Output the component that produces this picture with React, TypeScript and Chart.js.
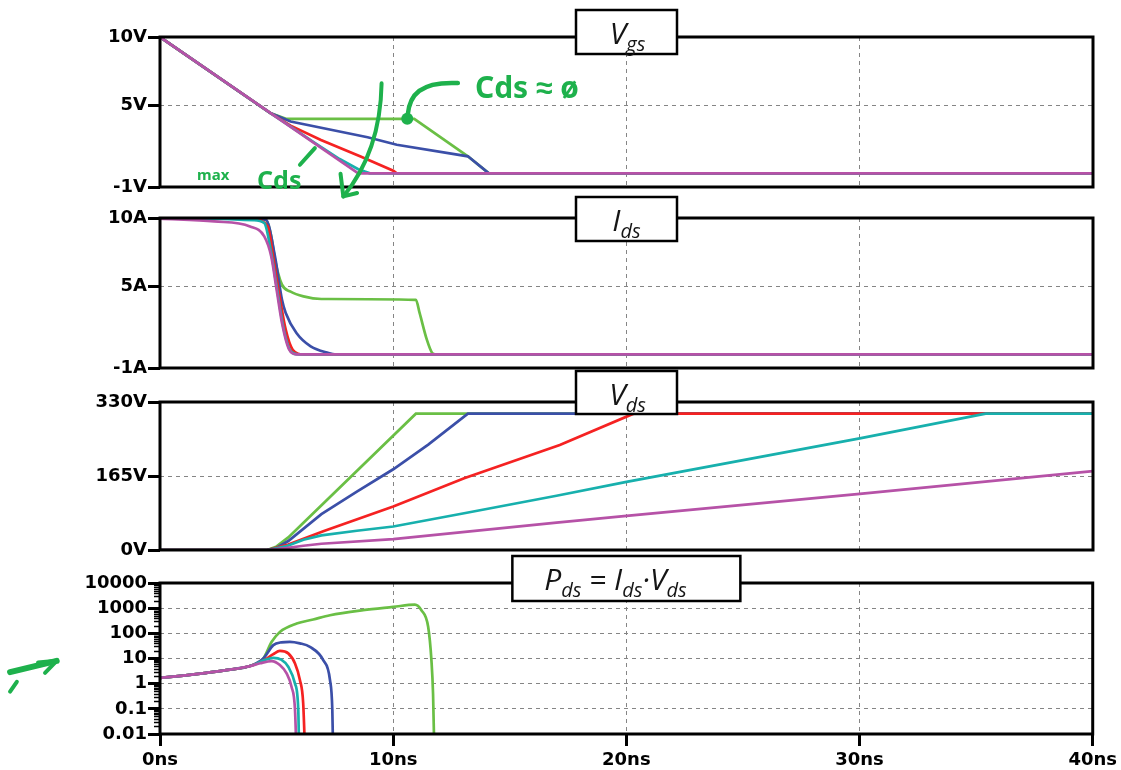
import React, { useEffect, useRef } from 'react';
import { Chart, registerables } from 'chart.js';
Chart.register(...registerables);

const W = 1121;
const H = 770;

// ---------------- time axis ----------------
const xTickValues = [0, 10, 20, 30, 40];

// ---------------- Vgs (V) ----------------
const vgsGreenT = [0, 4.75, 5.4, 10.9, 13.2, 14.1, 40];
const vgsGreenV = [10, 4.4, 4.0, 4.0, 1.25, 0, 0];
const vgsBlueT = [0, 4.75, 5.6, 8.9, 10.15, 13.2, 14.1, 40];
const vgsBlueV = [10, 4.4, 3.8, 2.65, 2.1, 1.25, 0, 0];
const vgsRedT = [0, 4.75, 5.6, 6.9, 8.6, 10.0, 10.15, 40];
const vgsRedV = [10, 4.4, 3.5, 2.45, 1.23, 0.2, 0, 0];
const vgsCyanT = [0, 4.75, 5.6, 6.6, 7.7, 8.5, 9.0, 40];
const vgsCyanV = [10, 4.4, 3.42, 2.28, 1.05, 0.3, 0, 0];
const vgsMagentaT = [0, 8.5, 40];
const vgsMagentaV = [10, 0, 0];
const vgsTicks = [-1, 5, 10];

// ---------------- Ids (A) ----------------
const idsGreenT = [0, 2, 4.0, 4.55, 4.77, 4.93, 5.23, 5.6, 6.15, 6.92, 10.97, 11.13, 11.44, 11.67, 11.8, 40];
const idsGreenV = [10, 10, 9.98, 9.85, 8.65, 6.94, 5.11, 4.6, 4.25, 4.06, 4.0, 3.04, 1.08, 0.1, 0, 0];
const idsBlueT = [0, 2, 4.0, 4.55, 4.93, 5.23, 5.39, 5.85, 6.46, 7.23, 7.5, 40];
const idsBlueV = [10, 10, 9.97, 9.85, 7.18, 4.0, 3.04, 1.57, 0.59, 0.1, 0, 0];
const idsRedT = [0, 2, 4.0, 4.62, 4.85, 5.08, 5.39, 5.69, 6.15, 40];
const idsRedV = [10, 9.98, 9.9, 9.38, 7.18, 4.74, 1.81, 0.34, 0, 0];
const idsCyanT = [0, 2, 4.0, 4.47, 4.77, 5.0, 5.31, 5.61, 5.92, 40];
const idsCyanV = [10, 9.95, 9.85, 9.63, 7.43, 4.99, 1.81, 0.22, 0, 0];
const idsMagentaT = [0, 2.33, 3.86, 4.47, 4.77, 5.0, 5.23, 5.54, 5.85, 40];
const idsMagentaV = [9.95, 9.75, 9.38, 8.65, 7.18, 4.74, 2.3, 0.34, 0, 0];
const idsTicks = [-1, 5, 10];

// ---------------- Vds (V) ----------------
const vdsGreenT = [0, 4.6, 5.0, 5.5, 10.97, 40];
const vdsGreenV = [0, 0, 8, 28, 304, 304];
const vdsBlueT = [0, 4.6, 5.0, 5.5, 6.92, 8.44, 10, 11.5, 13.2, 40];
const vdsBlueV = [0, 0, 5, 20, 80, 130, 180, 235, 304, 304];
const vdsRedT = [0, 4.6, 5.5, 7, 10, 13.04, 17.14, 20.3, 40];
const vdsRedV = [0, 0, 12, 42, 97, 160, 234, 304, 304];
const vdsCyanT = [0, 4.6, 5.39, 6.15, 6.92, 8.44, 10, 13.04, 17, 20, 30, 35.4, 40];
const vdsCyanV = [0, 0, 8, 23, 32.5, 43, 52.4, 82, 121, 152, 249, 304, 304];
const vdsMagentaT = [0, 4.6, 5.39, 6.15, 6.92, 10, 17, 20, 30, 40];
const vdsMagentaV = [0, 0, 4, 9.5, 14, 24.4, 61, 76, 125, 176];
const vdsTicks = [0, 165, 330];

// ---------------- Pds (W, log) ----------------
const pdsGreenT = [0, 1, 2, 3, 3.86, 4.43, 4.79, 5.14, 5.86, 6.57, 7.29, 8.71, 10.0, 10.93, 11.21, 11.5, 11.64, 11.71, 11.77];
const pdsGreenV = [1.7, 2.1, 2.7, 3.6, 5.0, 10, 46, 114, 245, 355, 525, 830, 1120, 1380, 830, 182, 8.6, 0.4, 0.001];
const pdsBlueT = [0, 1, 2, 3, 3.86, 4.43, 4.86, 5.2, 5.57, 6.0, 6.43, 7.0, 7.29, 7.39, 7.43];
const pdsBlueV = [1.7, 2.1, 2.7, 3.6, 5.0, 10, 34, 44, 46, 40, 29, 8.6, 1.4, 0.09, 0.001];
const pdsRedT = [0, 1, 2, 3, 3.86, 4.5, 4.86, 5.14, 5.5, 5.79, 6.0, 6.14, 6.23];
const pdsRedV = [1.7, 2.1, 2.7, 3.6, 5.0, 9, 15, 20, 16, 6.3, 1.4, 0.17, 0.001];
const pdsCyanT = [0, 1, 2, 3, 3.86, 4.5, 4.86, 5.2, 5.5, 5.79, 5.93, 5.97];
const pdsCyanV = [1.7, 2.1, 2.7, 3.6, 5.0, 8.8, 10.6, 9, 4.7, 1.0, 0.09, 0.001];
const pdsMagentaT = [0, 1, 2, 3, 3.86, 4.3, 4.79, 5.14, 5.43, 5.64, 5.79, 5.86];
const pdsMagentaV = [1.7, 2.1, 2.7, 3.6, 5.0, 6.5, 7.9, 5.5, 2.55, 0.75, 0.09, 0.001];
const pdsTicks = [0.01, 0.1, 1, 10, 100, 1000, 10000];
const pdsTickLabels = ['0.01', '0.1', '1', '10', '100', '1000', '10000'];

// ---------------- styles ----------------
const GREEN = '#6abf45';
const BLUE = '#3b4fa8';
const RED = '#f52222';
const CYAN = '#17b0ad';
const MAGENTA = '#b652a7';
const ANNOT = '#1eb14c';
const GRID = '#858585';
const LABEL_FONT = { family: '"DejaVu Sans", Verdana, sans-serif', size: 18, weight: 'bold' as const };

const pts = (t: number[], v: number[]) => t.map((x, i) => ({ x, y: v[i] }));

type Part = [string, boolean];

function drawTopAnnotations(chart: any) {
  const ctx = chart.ctx;
  const xs = chart.scales.x;
  const ys = chart.scales.y;
  const X = (v: number) => xs.getPixelForValue(v);
  const Y = (v: number) => ys.getPixelForValue(v);
  ctx.save();
  ctx.strokeStyle = ANNOT;
  ctx.fillStyle = ANNOT;
  ctx.lineCap = 'round';
  ctx.lineJoin = 'round';
  ctx.lineWidth = 4.5;
  // hook from text to dot
  ctx.beginPath();
  ctx.moveTo(X(12.77), Y(6.62));
  ctx.bezierCurveTo(X(11.14), Y(6.75), X(10.7), Y(5.74), X(10.62), Y(4.3));
  ctx.stroke();
  ctx.beginPath();
  ctx.arc(X(10.6), Y(4.0), 6, 0, Math.PI * 2);
  ctx.fill();
  ctx.font = 'bold 30px "Noto Sans", sans-serif';
  ctx.textBaseline = 'alphabetic';
  ctx.fillText('Cds \u2248 \u00f8', X(13.5), Y(5.55));
  // big arrow
  ctx.lineWidth = 4;
  ctx.beginPath();
  ctx.moveTo(X(9.5), Y(6.6));
  ctx.quadraticCurveTo(X(9.45), Y(1.6), X(7.86), Y(-1.69));
  ctx.stroke();
  ctx.beginPath();
  ctx.moveTo(X(7.74), Y(-0.03));
  ctx.lineTo(X(7.86), Y(-1.69));
  ctx.lineTo(X(8.45), Y(-1.44));
  ctx.stroke();
  // max Cds
  ctx.font = 'bold 15px "Noto Sans", sans-serif';
  ctx.fillText('max', X(1.59), Y(-0.47));
  ctx.font = 'bold 25px "Noto Sans", sans-serif';
  ctx.fillText('Cds', X(4.16), Y(-1.12));
  ctx.lineWidth = 4;
  ctx.beginPath();
  ctx.moveTo(X(6.64), Y(1.85));
  ctx.lineTo(X(6.0), Y(0.63));
  ctx.stroke();
  ctx.restore();
}

function drawLeftArrow(chart: any) {
  const ctx = chart.ctx;
  const xs = chart.scales.x;
  const ys = chart.scales.y;
  const X = (v: number) => xs.getPixelForValue(v);
  const Y = (v: number) => ys.getPixelForValue(v);
  ctx.save();
  ctx.strokeStyle = ANNOT;
  ctx.lineCap = 'round';
  ctx.lineJoin = 'round';
  ctx.lineWidth = 6;
  ctx.beginPath();
  ctx.moveTo(X(-6.43), Y(2.88));
  ctx.lineTo(X(-4.43), Y(8.07));
  ctx.stroke();
  ctx.lineWidth = 4;
  ctx.beginPath();
  ctx.moveTo(X(-5.23), Y(6.9));
  ctx.lineTo(X(-4.43), Y(8.07));
  ctx.lineTo(X(-4.93), Y(2.7));
  ctx.stroke();
  ctx.beginPath();
  ctx.moveTo(X(-6.14), Y(1.19));
  ctx.lineTo(X(-6.43), Y(0.48));
  ctx.stroke();
  ctx.restore();
}

interface PanelDef {
  key: string;
  top: number;
  bottom: number;
  log: boolean;
  yMin: number;
  yMax: number;
  yTicks: number[];
  yLabel: (v: number) => string;
  smooth: boolean;
  series: { t: number[]; v: number[]; color: string }[];
  showX: boolean;
  boxW: number;
  boxTop: number;
  boxH: number;
  textDx: number;
  parts: Part[];
  annotate?: (c: any) => void;
}

const panels: PanelDef[] = [
  {
    key: 'vgs', top: 37, bottom: 187, log: false, yMin: -1, yMax: 10, yTicks: vgsTicks,
    yLabel: (v) => `${v}V`, smooth: false, showX: false,
    series: [
      { t: vgsMagentaT, v: vgsMagentaV, color: MAGENTA },
      { t: vgsCyanT, v: vgsCyanV, color: CYAN },
      { t: vgsRedT, v: vgsRedV, color: RED },
      { t: vgsBlueT, v: vgsBlueV, color: BLUE },
      { t: vgsGreenT, v: vgsGreenV, color: GREEN },
    ],
    boxW: 101, boxTop: 10, boxH: 44, textDx: 1,
    parts: [['V', false], ['gs', true]],
    annotate: drawTopAnnotations,
  },
  {
    key: 'ids', top: 218, bottom: 368, log: false, yMin: -1, yMax: 10, yTicks: idsTicks,
    yLabel: (v) => `${v}A`, smooth: true, showX: false,
    series: [
      { t: idsMagentaT, v: idsMagentaV, color: MAGENTA },
      { t: idsCyanT, v: idsCyanV, color: CYAN },
      { t: idsRedT, v: idsRedV, color: RED },
      { t: idsBlueT, v: idsBlueV, color: BLUE },
      { t: idsGreenT, v: idsGreenV, color: GREEN },
    ],
    boxW: 101, boxTop: 197, boxH: 44, textDx: 0,
    parts: [['I', false], ['ds', true]],
  },
  {
    key: 'vds', top: 402, bottom: 550, log: false, yMin: 0, yMax: 330, yTicks: vdsTicks,
    yLabel: (v) => `${v}V`, smooth: false, showX: false,
    series: [
      { t: vdsMagentaT, v: vdsMagentaV, color: MAGENTA },
      { t: vdsCyanT, v: vdsCyanV, color: CYAN },
      { t: vdsRedT, v: vdsRedV, color: RED },
      { t: vdsBlueT, v: vdsBlueV, color: BLUE },
      { t: vdsGreenT, v: vdsGreenV, color: GREEN },
    ],
    boxW: 101, boxTop: 371, boxH: 43, textDx: 1,
    parts: [['V', false], ['ds', true]],
  },
  {
    key: 'pds', top: 583, bottom: 734, log: true, yMin: 0.01, yMax: 10000, yTicks: pdsTicks,
    yLabel: (v) => pdsTickLabels[pdsTicks.indexOf(v)] ?? String(v), smooth: true, showX: true,
    series: [
      { t: pdsMagentaT, v: pdsMagentaV, color: MAGENTA },
      { t: pdsCyanT, v: pdsCyanV, color: CYAN },
      { t: pdsRedT, v: pdsRedV, color: RED },
      { t: pdsBlueT, v: pdsBlueV, color: BLUE },
      { t: pdsGreenT, v: pdsGreenV, color: GREEN },
    ],
    boxW: 228, boxTop: 556, boxH: 45, textDx: -11,
    parts: [['P', false], ['ds', true], [' = ', false], ['I', false], ['ds', true], ['\u00b7', false], ['V', false], ['ds', true]],
    annotate: drawLeftArrow,
  },
];

function panelPlugin(p: PanelDef) {
  return {
    id: 'panel_' + p.key,
    afterDraw(chart: any) {
      const ctx = chart.ctx;
      const a = chart.chartArea;
      ctx.save();
      if (p.log) {
        const ys = chart.scales.y;
        ctx.strokeStyle = '#000';
        ctx.lineWidth = 1.5;
        for (let i = 0; i < pdsTicks.length - 1; i++) {
          for (let k = 2; k <= 9; k++) {
            const y = Math.round(ys.getPixelForValue(pdsTicks[i] * k)) + 0.5;
            ctx.beginPath();
            ctx.moveTo(a.left - 6, y);
            ctx.lineTo(a.left, y);
            ctx.stroke();
          }
        }
      }
      // frame
      ctx.strokeStyle = '#000';
      ctx.lineWidth = 3;
      ctx.strokeRect(a.left, a.top, a.right - a.left, a.bottom - a.top);
      // title box
      const cx = (a.left + a.right) / 2;
      const bx = cx - p.boxW / 2;
      ctx.fillStyle = '#fff';
      ctx.fillRect(bx, p.boxTop, p.boxW, p.boxH);
      ctx.lineWidth = 2.5;
      ctx.strokeRect(bx, p.boxTop, p.boxW, p.boxH);
      const mainFont = 'italic 30px "Open Sans", sans-serif';
      const subFont = 'italic 20px "Open Sans", sans-serif';
      let total = 0;
      for (const [s, sub] of p.parts) {
        ctx.font = sub ? subFont : mainFont;
        total += ctx.measureText(s).width;
      }
      let x = cx - total / 2 + p.textDx;
      const base = p.boxTop + 34;
      ctx.fillStyle = '#151515';
      ctx.textBaseline = 'alphabetic';
      for (const [s, sub] of p.parts) {
        ctx.font = sub ? subFont : mainFont;
        ctx.fillText(s, x, sub ? base + 7 : base);
        x += ctx.measureText(s).width;
      }
      ctx.restore();
      if (p.annotate) p.annotate(chart);
    },
  };
}

function makeConfig(p: PanelDef): any {
  const xAxisH = p.showX ? 36 : 0;
  return {
    type: 'line',
    data: {
      datasets: p.series.map((s) => ({
        data: pts(s.t, s.v),
        borderColor: s.color,
        borderWidth: 2.7,
        pointRadius: 0,
        fill: false,
        tension: 0,
        cubicInterpolationMode: p.smooth ? 'monotone' : 'default',
      })),
    },
    options: {
      responsive: false,
      animation: false,
      devicePixelRatio: 1,
      events: [],
      layout: { padding: { top: p.top, bottom: H - p.bottom - xAxisH, left: 0, right: W - 1093 } },
      plugins: { legend: { display: false }, tooltip: { enabled: false }, title: { display: false } },
      scales: {
        x: {
          type: 'linear',
          min: 0,
          max: 40,
          afterBuildTicks: (s: any) => { s.ticks = xTickValues.map((v) => ({ value: v })); },
          afterFit: (s: any) => { s.height = xAxisH; },
          ticks: {
            display: p.showX,
            autoSkip: false,
            maxRotation: 0,
            padding: 4,
            color: '#000',
            font: LABEL_FONT,
            callback: (v: any) => `${v}ns`,
          },
          grid: {
            color: GRID,
            lineWidth: 1,
            drawTicks: p.showX,
            tickLength: 12,
            tickWidth: 3,
            tickColor: '#000',
          },
          border: { display: false, dash: [4, 4] },
        },
        y: {
          type: p.log ? 'logarithmic' : 'linear',
          min: p.yMin,
          max: p.yMax,
          afterBuildTicks: (s: any) => { s.ticks = p.yTicks.map((v) => ({ value: v })); },
          afterFit: (s: any) => { s.width = 160; },
          ticks: {
            autoSkip: false,
            padding: 1,
            color: '#000',
            font: LABEL_FONT,
            callback: (v: any) => p.yLabel(Number(v)),
          },
          grid: {
            color: GRID,
            lineWidth: 1,
            drawTicks: true,
            tickLength: 12,
            tickWidth: 3,
            tickColor: '#000',
          },
          border: { display: false, dash: [4, 4] },
        },
      },
    },
    plugins: [panelPlugin(p)],
  };
}

export default function App() {
  const canvases = useRef<(HTMLCanvasElement | null)[]>([]);
  useEffect(() => {
    const charts = panels.map((p, i) => new Chart(canvases.current[i] as HTMLCanvasElement, makeConfig(p)));
    return () => charts.forEach((c) => c.destroy());
  }, []);
  return (
    <div style={{ position: 'absolute', left: 0, top: 0, width: W, height: H, background: '#fff', overflow: 'hidden' }}>
      {panels.map((p, i) => (
        <canvas
          key={p.key}
          ref={(el) => { canvases.current[i] = el; }}
          width={W}
          height={H}
          style={{ position: 'absolute', left: 0, top: 0, width: W, height: H }}
        />
      ))}
    </div>
  );
}
